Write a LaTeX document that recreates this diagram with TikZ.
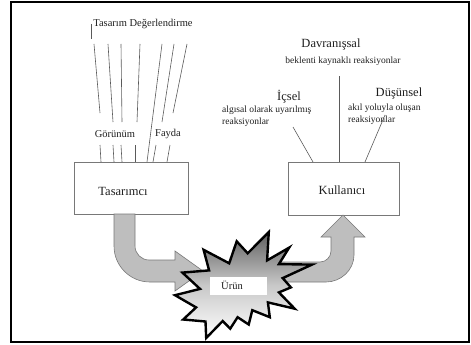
\documentclass[tikz,border=0pt]{standalone}
\usepackage{fontspec}
\setmainfont{Liberation Serif}
\begin{document}
\begin{tikzpicture}[x=1pt,y=-1pt,
  box/.style={draw={rgb,255:red,120;green,120;blue,120}, line width=0.7pt, fill=white, inner sep=0pt},
  ray/.style={draw={rgb,255:red,90;green,90;blue,90}, line width=0.6pt},
  arr/.style={fill={rgb,255:red,190;green,190;blue,190}, draw={rgb,255:red,120;green,120;blue,120}, line width=0.6pt},
  lbl/.style={inner sep=0pt, text={rgb,255:red,30;green,30;blue,30}},
  big/.style={lbl, font=\fontsize{12.5}{14}\selectfont},
  mid/.style={lbl, font=\fontsize{10.5}{12}\selectfont},
  sml/.style={lbl, font=\fontsize{9.5}{12}\selectfont}]
\useasboundingbox (0,0) rectangle (471,345);
% frame
\draw[line width=1.6pt] (11,2) rectangle (469,342);

% boxes
\node[box, minimum width=114pt, minimum height=52pt] (tas) at (131,188) {};
\node[big] (tastxt) at (123,191) {Tasarımcı};
\node[box, minimum width=111pt, minimum height=53pt] (kul) at (343.5,188.5) {};
\node[big] (kultxt) at (342,190) {Kullanıcı};

% left top labels
\node[mid] (tdeg) at (143,24) {Tasarım Değerlendirme};
\coordinate (tk1) at (91,24); \coordinate (tk2) at (91,39);
\draw[ray, line width=0.4pt] (tk1) -- (tk2);
\node[mid] (gor) at (115,134) {Görünüm};
\node[mid] (fay) at (168,134) {Fayda};

% rays upper
\foreach \i/\a/\b/\c/\d in {1/94/44/100/113, 2/108/44/113/122, 3/121/44/122/122, 4/140/44/137/122, 5/162/44/147/162, 6/174/44/162/122, 7/187/44/173/113}{
  \coordinate (ua\i) at (\a,\b); \coordinate (ub\i) at (\c,\d);
  \draw[ray] (ua\i) -- (ub\i);
}
% rays lower
\foreach \i/\a/\b/\c/\d in {1/100/145/101/162, 2/113/145/114/162, 3/121/145/122/162, 4/135/145/135/162, 5/156/145/153/162, 6/170/145/167/162}{
  \coordinate (la\i) at (\a,\b); \coordinate (lb\i) at (\c,\d);
  \draw[ray] (la\i) -- (lb\i);
}

% right labels
\node[big] (dav) at (331,44) {Davranışsal};
\node[sml] (davs) at (343,61) {beklenti kaynaklı reaksiyonlar};
\coordinate (dv1) at (339,76);
\draw[ray] (dv1) -- (kul.north -| dv1);
\node[big] (ic) at (289,97) {İçsel};
\node[sml, anchor=west, align=left] (ics) at (222,116) {algısal olarak uyarılmış\\reaksiyonlar};
\coordinate (ic1) at (293,127); \coordinate (ic2) at (313,162);
\draw[ray] (ic1) -- (ic2);
\node[big] (dus) at (399,93) {Düşünsel};
\node[sml, anchor=west, align=left] (duss) at (348,114.5) {akıl yoluyla oluşan\\reaksiyonlar};
\coordinate (du1) at (385,115); \coordinate (du2) at (365,162);
\draw[ray] (du1) -- (du2);

% left bent arrow
\draw[arr] (114,214) -- (114,246) .. controls (114,265.9) and (130.1,282) .. (150,282)
  -- (175,282) -- (175,291) -- (203,271) -- (175,251) -- (175,260) -- (149,260)
  .. controls (141.3,260) and (135,253.7) .. (135,246) -- (135,214) -- cycle;
% right bent arrow
\draw[arr] (240,262) -- (320,262) .. controls (326,262) and (331,257) .. (331,251)
  -- (331,237) -- (321,237) -- (343,215) -- (365,237) -- (354,237) -- (354,255)
  .. controls (354,270) and (341,282) .. (326,282) -- (240,282) -- cycle;

% explosion
\draw[line width=2.4pt, line join=miter, miter limit=20, top color={rgb,255:red,95;green,95;blue,95}, bottom color=white, middle color={rgb,255:red,200;green,200;blue,200}]
 (247.7,253.3) -- (268.8,232) -- (267.1,260.4) -- (289.2,247.6) -- (278.9,264.1) -- (312,264.6)
 -- (282.7,278.1) -- (290.9,287.4) -- (278.9,292.4) -- (294.7,308.7) -- (267.9,302.4)
 -- (269.8,317.2) -- (252.3,310.2) -- (248.7,324.5) -- (237.6,317.2) -- (230.2,328.7)
 -- (222.7,321.0) -- (206.2,338) -- (205.5,321.5) -- (183.2,319.5) -- (196.1,307.4)
 -- (175,295.2) -- (200.0,288.9) -- (182.4,272.6) -- (209.1,270.4) -- (203.6,249.8)
 -- (229.2,263.3) -- (236.7,241.3) -- cycle;
\node[fill=white, minimum width=57pt, minimum height=18pt, inner sep=0pt] (urb) at (238.5,286) {};
\node[mid] (urun) at (232,285.5) {Ürün};
\end{tikzpicture}
\end{document}
